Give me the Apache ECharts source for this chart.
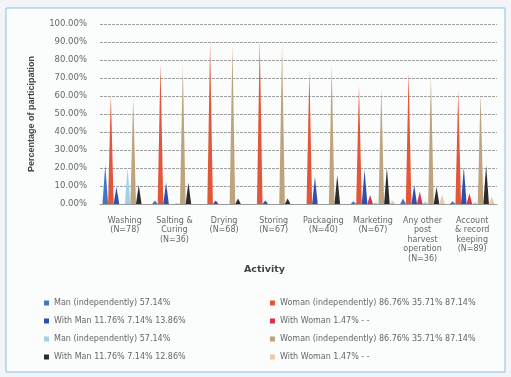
<!DOCTYPE html>
<html>
<head>
<meta charset="utf-8">
<script src="https://cdn.jsdelivr.net/npm/echarts@6/dist/echarts.min.js"></script>
<style>
  html, body { margin: 0; padding: 0; background: #f2f4f5; }
  #main { width: 511px; height: 377px; }
</style>
</head>
<body>
<div id="main"></div>
<script>
// categories (activities)
var categories = [
    'Washing\n(N=78)',
    'Salting &\nCuring\n(N=36)',
    'Drying\n(N=68)',
    'Storing\n(N=67)',
    'Packaging\n(N=40)',
    'Marketing\n(N=67)',
    'Any other\npost\nharvest\noperation\n(N=36)',
    'Account\n& record\nkeeping\n(N=89)'
];

// percentages
var manIndep = [21.5, 2, 0, 0, 0, 1.5, 3, 1.5];
var womanIndep = [61, 78, 89.5, 91, 74, 66, 73, 63];
var withMan = [9.5, 12, 2, 2, 15, 19, 10.5, 20.5];
var withWoman = [0, 0, 0, 0, 0, 5, 7, 6];
var manIndep2 = [20, 0.5, 0, 0, 0, 1, 1.5, 1];
var womanIndep2 = [59, 77, 88, 88, 77, 64.5, 70.5, 61.5];
var withMan2 = [10.5, 12, 3, 3, 16, 20, 9.5, 21.5];
var withWoman2 = [0, 0, 0, 0, 0, 2, 5, 4];

var yTicks = [0, 10, 20, 30, 40, 50, 60, 70, 80, 90, 100];

var names = [
    'Man (independently) 57.14%',
    'Woman (independently) 86.76% 35.71% 87.14%',
    'With Man 11.76% 7.14% 13.86%',
    'With Woman 1.47% - -',
    'Man (independently) 57.14% ',
    'Woman (independently) 86.76% 35.71% 87.14% ',
    'With Man 11.76% 7.14% 12.86%',
    'With Woman 1.47% - - '
];
var colors = ['#3b78c8', '#e2573a', '#2f4fae', '#d8324a', '#9fd2ea', '#bfa37c', '#2e2a2a', '#efc8a6'];
var values = [manIndep, womanIndep, withMan, withWoman, manIndep2, womanIndep2, withMan2, withWoman2];

var myChart = echarts.init(document.getElementById('main'));

var series = [];
for (var i = 0; i < values.length; i++) {
    series.push({
        name: names[i],
        type: 'pictorialBar',
        symbol: 'triangle',
        barCategoryGap: '10%',
        barGap: '0%',
        itemStyle: { color: colors[i] },
        data: values[i]
    });
}

var legendText = { fontSize: 8, color: '#666', fontFamily: 'DejaVu Sans' };

option = {
    backgroundColor: '#f2f4f5',
    animation: false,
    color: colors,
    graphic: [{
        type: 'rect',
        z: -10,
        shape: { x: 6, y: 8, width: 499, height: 364 },
        style: { fill: '#fbfcfc', stroke: '#86c2e0', lineWidth: 1 }
    }],
    grid: {
        left: 100,
        right: 14,
        top: 24,
        bottom: 173
    },
    legend: [{
        orient: 'vertical',
        left: 39,
        top: 294,
        itemWidth: 5,
        itemHeight: 5,
        itemGap: 10,
        icon: 'rect',
        textStyle: legendText,
        data: [names[0], names[2], names[4], names[6]]
    }, {
        orient: 'vertical',
        left: 265,
        top: 294,
        itemWidth: 5,
        itemHeight: 5,
        itemGap: 10,
        icon: 'rect',
        textStyle: legendText,
        data: [names[1], names[3], names[5], names[7]]
    }],
    xAxis: {
        type: 'category',
        data: categories,
        name: 'Activity',
        nameLocation: 'middle',
        nameGap: 56,
        nameTextStyle: {
            fontSize: 9.5, fontWeight: 'bold', color: '#444', fontFamily: 'DejaVu Sans',
            padding: [0, 68, 0, 0]
        },
        axisTick: { show: false },
        axisLine: { lineStyle: { color: '#9a9a9a' } },
        axisLabel: {
            interval: 0,
            margin: 12,
            fontSize: 8,
            lineHeight: 9.5,
            color: '#666',
            fontFamily: 'DejaVu Sans'
        }
    },
    yAxis: {
        type: 'value',
        min: yTicks[0],
        max: yTicks[yTicks.length - 1],
        interval: 10,
        name: 'Percentage of participation',
        nameLocation: 'middle',
        nameRotate: 90,
        nameGap: 64,
        nameTextStyle: { fontSize: 9, fontWeight: 'bold', color: '#444', fontFamily: 'Liberation Sans' },
        axisLabel: {
            fontSize: 8.5,
            color: '#666',
            margin: 13,
            fontFamily: 'DejaVu Sans',
            formatter: function (v) { return v.toFixed(2) + '%'; }
        },
        splitLine: { lineStyle: { color: '#a0a0a0', type: [3, 1] } }
    },
    series: series
};

myChart.setOption(option);
</script>
</body>
</html>
